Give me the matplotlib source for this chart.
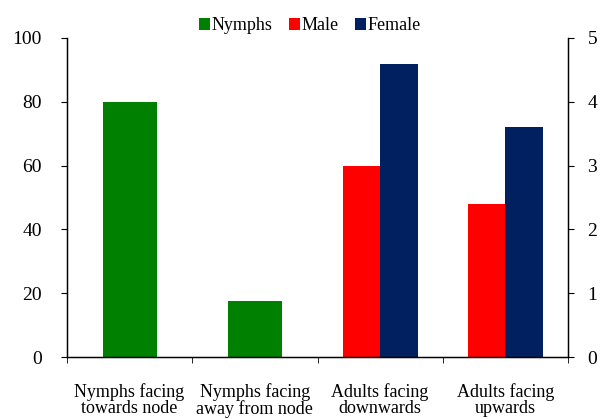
import matplotlib
matplotlib.use("Agg")
import matplotlib.pyplot as plt
import numpy as np

categories = ["Nymphs facing\ntowards node", "Nymphs facing\naway from node",
              "Adults facing\ndownwards", "Adults facing\nupwards"]
nymphs = [80, 17.5, 0, 0]
male = [0, 0, 60, 48]
female = [0, 0, 92, 72]

plt.rcParams['font.family'] = ['Liberation Serif', 'DejaVu Serif']

fig = plt.figure(figsize=(6.01, 4.19), dpi=100)
ax = fig.add_axes([67/601, 62/419, 501/601, 319/419])
x = np.arange(len(categories))

nx = [i for i in x if nymphs[i] > 0]
ax.bar(nx, [nymphs[i] for i in nx], width=0.43, color='#008000', label='Nymphs')
ax2x = [i for i in x if male[i] > 0]
ax.bar(np.array(ax2x) - 0.15, [male[i] for i in ax2x], width=0.3, color='#FF0000', label='Male')
ax.bar(np.array(ax2x) + 0.15, [female[i] for i in ax2x], width=0.3, color='#002060', label='Female')

ax.set_xlim(-0.5, 3.5)
ax.set_ylim(0, 100)
ax.set_yticks([0, 20, 40, 60, 80, 100])
ax.tick_params(axis='y', labelsize=14, direction='out', length=4, pad=14)
ax.set_xticks(x)
ax.set_xticklabels(categories, fontsize=13, linespacing=0.93)
ax.set_xticks(np.arange(-0.5, 4, 1), minor=True)
ax.tick_params(axis='x', which='major', length=0, pad=19)
ax.tick_params(axis='x', which='minor', length=4, direction='out')
ax.spines['top'].set_visible(False)
for s in ax.spines.values():
    s.set_linewidth(1.0)

ax2 = ax.twinx()
ax2.set_ylim(0, 5)
ax2.set_yticks([0, 1, 2, 3, 4, 5])
ax2.tick_params(axis='y', labelsize=14, direction='out', length=4, pad=10)
ax2.spines['top'].set_visible(False)

leg = fig.legend(loc='center', bbox_to_anchor=(310/601, 1 - 26/419), ncol=3, frameon=False,
                 fontsize=13, handlelength=0.6, handleheight=0.6, handletextpad=0.1,
                 columnspacing=0.9)

fig.savefig("out.png", dpi=100)
